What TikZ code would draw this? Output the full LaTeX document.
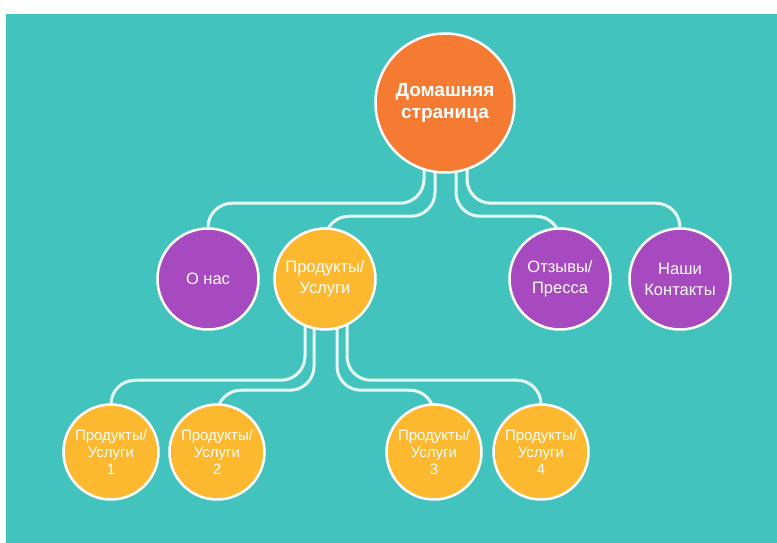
\documentclass[tikz,border=0pt]{standalone}
\usepackage{fontspec}
\setmainfont{Liberation Sans}
\usetikzlibrary{backgrounds}
\definecolor{sea}{HTML}{43C3BD}
\definecolor{homeorange}{HTML}{F57A32}
\definecolor{aboutpurple}{HTML}{A74AC0}
\definecolor{prodyellow}{HTML}{FCB82F}
\definecolor{linkwhite}{HTML}{E6FAF8}

\begin{document}
\begin{tikzpicture}[x=1pt, y=1pt,
  lvl/.style={circle, draw=white, line width=2.5pt, text=white, align=center, inner sep=0pt},
  top/.style={lvl, fill=homeorange, minimum size=139pt, font=\fontsize{19}{22}\selectfont\bfseries},
  mid/.style={lvl, minimum size=101pt, font=\fontsize{16.5}{21}\selectfont},
  leaf/.style={lvl, fill=prodyellow, minimum size=95pt, font=\fontsize{15}{17}\selectfont},
  link/.style={draw=linkwhite, line width=3pt, rounded corners=24pt}]
\useasboundingbox (0,0) rectangle (777,543);
\node[top] (home) at (445,440) {Домашняя\\страница};
\node[mid, fill=aboutpurple] (about) at (208,264) {О нас};
\node[mid, fill=prodyellow] (prod) at (325,264) {Продукты/\\Услуги};
\node[mid, fill=aboutpurple] (reviews) at (560,264) {Отзывы/\\Пресса};
\node[mid, fill=aboutpurple] (contacts) at (680,264) {Наши\\Контакты};
\node[leaf] (prod1) at (111,91) {Продукты/\\Услуги\\1};
\node[leaf] (prod2) at (217,91) {Продукты/\\Услуги\\2};
\node[leaf] (prod3) at (434,91) {Продукты/\\Услуги\\3};
\node[leaf] (prod4) at (541,91) {Продукты/\\Услуги\\4};
\begin{scope}[on background layer]
\fill[white] (0,0) rectangle (777,543);
\fill[sea] (6,-5) rectangle (782,529);
% home -> second row
\draw[link] ([xshift=-21pt]home.center) |- ([yshift=24pt]about.north) [rounded corners=7pt] -- (about.north);
\draw[link] ([xshift=-10pt]home.center) |- ([yshift=11pt]prod.north) [rounded corners=7pt] -- (prod.north);
\draw[link] ([xshift=11pt]home.center) |- ([yshift=11pt]reviews.north) [rounded corners=7pt] -- (reviews.north);
\draw[link] ([xshift=22pt]home.center) |- ([yshift=24pt]contacts.north) [rounded corners=7pt] -- (contacts.north);
% products -> leaves
\draw[link] ([xshift=-20pt]prod.center) |- ([yshift=23pt]prod1.north) [rounded corners=7pt] -- (prod1.north);
\draw[link] ([xshift=-11pt]prod.center) |- ([yshift=13pt]prod2.north) [rounded corners=7pt] -- (prod2.north);
\draw[link] ([xshift=12pt]prod.center) |- ([yshift=13pt]prod3.north) [rounded corners=7pt] -- (prod3.north);
\draw[link] ([xshift=22pt]prod.center) |- ([yshift=23pt]prod4.north) [rounded corners=7pt] -- (prod4.north);
\end{scope}
\end{tikzpicture}
\end{document}
